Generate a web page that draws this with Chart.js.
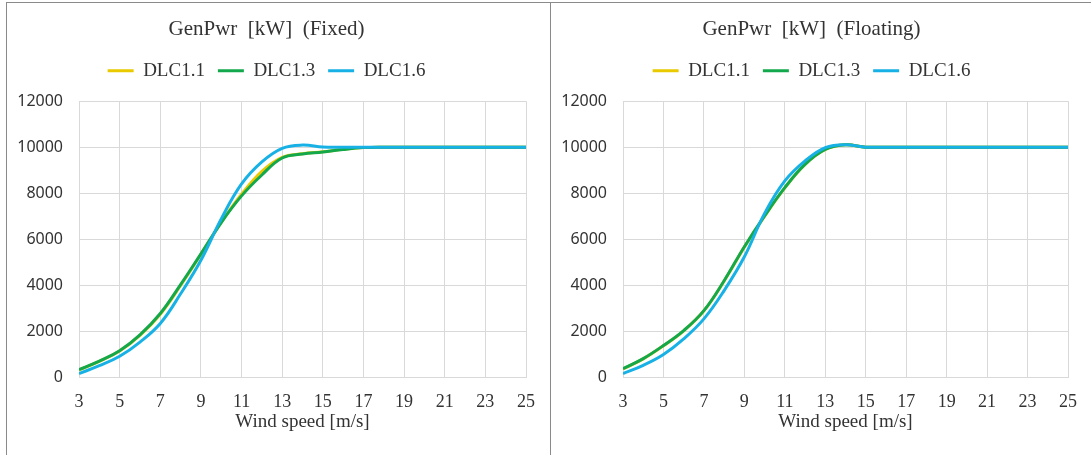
<!DOCTYPE html>
<html>
<head>
<meta charset="utf-8">
<script src="https://cdn.jsdelivr.net/npm/chart.js@4"></script>
<style>
  html, body { margin: 0; padding: 0; background: #fff; width: 1091px; height: 455px; overflow: hidden; }
  .frame { position: absolute; left: 6px; top: 2px; width: 1085px; height: 460px;
           border-top: 1px solid #8a8a8a; border-left: 1px solid #8a8a8a; }
  .divider { position: absolute; left: 550px; top: 2px; width: 1px; height: 460px; background: #8a8a8a; }
  canvas { position: absolute; top: 3px; }
  #chart-fixed { left: 7px; }
  #chart-floating { left: 551px; }
</style>
</head>
<body>
<div class="frame"></div>
<div class="divider"></div>
<canvas id="chart-fixed" width="543" height="452"></canvas>
<canvas id="chart-floating" width="540" height="452"></canvas>
<script>
// ── Data ──────────────────────────────────────────────────────────────────────

const WIND_SPEED = [3, 4, 5, 6, 7, 8, 9, 10, 11, 12, 13, 14, 15, 16, 17, 18, 19, 20, 21, 22, 23, 24, 25];
const X_TICKS    = [3, 5, 7, 9, 11, 13, 15, 17, 19, 21, 23, 25];
const SERIES     = ['DLC1.1', 'DLC1.3', 'DLC1.6'];

const FIXED_DLC11 = [310, 680, 1130, 1810, 2730, 3980, 5330, 6730, 7950, 8950, 9560, 9710, 9800, 9905, 9980, 10000, 10000, 10000, 10000, 10000, 10000, 10000, 10000];
const FIXED_DLC13 = [320, 690, 1140, 1830, 2760, 4020, 5360, 6720, 7880, 8790, 9530, 9700, 9790, 9900, 9980, 10000, 10000, 10000, 10000, 10000, 10000, 10000, 10000];
const FIXED_DLC16 = [150, 490, 900, 1520, 2330, 3620, 5080, 6880, 8400, 9360, 9950, 10090, 10010, 10000, 10000, 10000, 10000, 10000, 10000, 10000, 10000, 10000, 10000];

const FLOAT_DLC11 = [350, 790, 1360, 2010, 2880, 4180, 5650, 7000, 8230, 9250, 9900, 10100, 10000, 10000, 10000, 10000, 10000, 10000, 10000, 10000, 10000, 10000, 10000];
const FLOAT_DLC13 = [360, 800, 1370, 2020, 2890, 4190, 5670, 7010, 8240, 9250, 9900, 10100, 10000, 10000, 10000, 10000, 10000, 10000, 10000, 10000, 10000, 10000, 10000];
const FLOAT_DLC16 = [150, 510, 980, 1660, 2530, 3760, 5230, 7120, 8530, 9400, 9980, 10110, 10000, 10000, 10000, 10000, 10000, 10000, 10000, 10000, 10000, 10000, 10000];

const COLORS = ['#e9c900', '#14a84c', '#18b1e6'];

const SERIF = '"Liberation Serif", "DejaVu Serif", serif';
const SANS  = '"Noto Sans", "Open Sans", sans-serif';
const GRID  = '#d9d9d9';
const INK   = '#333333';

// extra gap under the legend, so the plot starts where Excel put it
const legendGap = {
  id: 'legendGap',
  beforeInit(chart) {
    const fit = chart.legend.fit;
    chart.legend.fit = function () {
      fit.call(this);
      this.height += 11;
    };
  },
};

// ── Chart builder ─────────────────────────────────────────────────────────────

function mkChart(id, title, values, rightPad) {
  const datasets = values.map((vals, i) => ({
    label: SERIES[i],
    data: WIND_SPEED.map((x, j) => ({ x, y: vals[j] })),
    borderColor: COLORS[i],
    backgroundColor: COLORS[i],
    borderWidth: 3,
    pointRadius: 0,
    tension: 0.4,
    fill: false,
    order: values.length - i,   // later series drawn on top, like Excel
  }));

  return new Chart(document.getElementById(id), {
    type: 'line',
    data: { datasets },
    plugins: [legendGap],
    options: {
      responsive: false,
      animation: false,
      devicePixelRatio: 1,
      layout: { padding: { left: 0, right: rightPad, top: 0, bottom: 0 } },
      plugins: {
        title: {
          display: true,
          text: title,
          color: INK,
          font: { family: SERIF, size: 21, weight: 'normal' },
          padding: { top: 14, bottom: 6 },
        },
        legend: {
          position: 'top',
          labels: {
            color: INK,
            font: { family: SERIF, size: 19 },
            usePointStyle: true,
            pointStyle: 'line',
            pointStyleWidth: 26,
            padding: 13,
            sort: (a, b) => a.datasetIndex - b.datasetIndex,
          },
        },
        tooltip: { enabled: false },
      },
      scales: {
        x: {
          type: 'linear',
          min: 3, max: 25,
          afterBuildTicks: s => { s.ticks = X_TICKS.map(v => ({ value: v })); },
          afterFit: s => { s.height = 78; },
          grid: { color: GRID, drawTicks: false },
          border: { color: GRID },
          ticks: { color: INK, padding: 14, font: { family: SERIF, size: 18 }, maxRotation: 0 },
          title: {
            display: true,
            text: 'Wind speed [m/s]',
            color: INK,
            font: { family: SERIF, size: 19 },
            padding: { top: 0, bottom: 22 },
          },
        },
        y: {
          min: 0, max: 12000,
          afterFit: s => { s.width = 72; },
          grid: { color: GRID, drawTicks: false },
          border: { color: GRID },
          ticks: {
            stepSize: 2000, color: INK, padding: 16,
            font: { family: SANS, size: 16 },
            callback: v => String(v),
          },
        },
      },
    },
  });
}

// ── Render ────────────────────────────────────────────────────────────────────

mkChart('chart-fixed',    'GenPwr  [kW]  (Fixed)',    [FIXED_DLC11, FIXED_DLC13, FIXED_DLC16], 24);
mkChart('chart-floating', 'GenPwr  [kW]  (Floating)', [FLOAT_DLC11, FLOAT_DLC13, FLOAT_DLC16], 19);
</script>
</body>
</html>
